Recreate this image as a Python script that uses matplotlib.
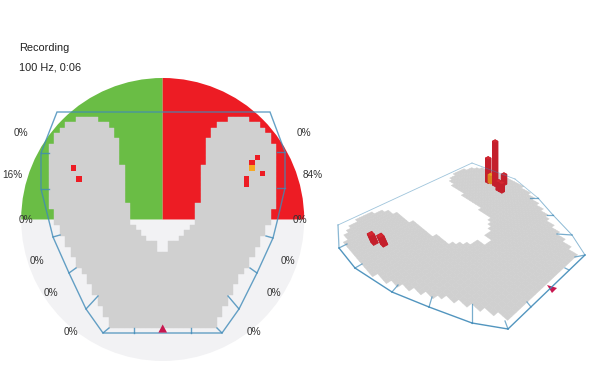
import matplotlib
matplotlib.use("Agg")
import matplotlib.pyplot as plt
import numpy as np
from matplotlib.collections import PolyCollection
from matplotlib.patches import Wedge, Polygon

plt.rcParams['font.family'] = ['Liberation Sans', 'DejaVu Sans']

# sensor map, one entry per row, columns counted from the middle of the foot map
left_start = [-16, -18, -19, -20, -20, -21, -21, -21, -21, -21, -21, -21, -21, -21, -21, -21, -21, -20, -20, -20,
              -19, -19, -18, -18, -17, -17, -16, -16, -15, -14, -14, -13, -13, -12, -12, -11, -11, -10, -10]
left_end = [-12, -10, -9, -9, -8, -8, -8, -8, -8, -7, -7, -7, -7, -7, -7, -7, -6, -6, -6, -6,
            -5, -4, -3, -1, -1, 0, 0, 0, 0, 0, 0, 0, 0, 0, 0, 0, 0, 0, 0]
right_start = [12, 10, 9, 9, 8, 8, 8, 8, 8, 7, 7, 7, 7, 7, 7, 7, 6, 6, 6, 6,
               5, 4, 3, 1, 1, 0, 0, 0, 0, 0, 0, 0, 0, 0, 0, 0, 0, 0, 0]
right_end = [16, 18, 19, 20, 20, 21, 21, 21, 21, 21, 21, 21, 21, 21, 21, 21, 21, 20, 20, 20,
             19, 19, 18, 18, 17, 17, 16, 16, 15, 14, 14, 13, 13, 12, 12, 11, 11, 10, 10]

# loaded cells: column, row, bar height, colour
hot_cols = [-17, -16, 17, 16, 16, 18, 15, 15]
hot_rows = [9, 11, 7, 8, 9, 10, 11, 12]
hot_heights = [9, 9, 44, 24, 8, 10, 9, 9]
hot_colors = ['#ed1c24', '#ed1c24', '#ed1c24', '#ed1c24', '#f7a823', '#ed1c24', '#ed1c24', '#ed1c24']
bar_lean = [0.45, 0.45, 0, 0, 0, 0, 0, 0]
bar_dx = [0, 0, 8, 1, 1, 6, 6, 6]
bar_dy = [0, -1, 8, 2, 1, 4, 4, 4]

title_lines = ["Recording", "100 Hz, 0:06"]
pct_labels = ["0%", "16%", "0%", "0%", "0%", "0%", "0%", "0%", "0%", "0%", "84%", "0%"]
pct_x = [21, 12, 26, 37, 51, 71, 254, 274, 288, 300, 313, 304]
pct_y = [133, 175, 220, 261, 293, 332, 332, 293, 261, 220, 175, 133]

# outline of the plate in the flat view and in the tilted view
hull_x = [57, 41, 41, 53, 69, 86, 103, 222, 239, 257, 273, 277, 285, 285, 270]
hull_y = [112, 153, 189, 237, 273, 309, 333, 333, 309, 273, 238, 222, 188, 152, 112]
tick_x0 = [41, 41, 53, 69, 86, 103, 134, 191, 222, 239, 257, 273, 285, 285]
tick_y0 = [153, 189, 237, 273, 309, 333, 333, 333, 333, 309, 273, 238, 188, 152]
tick_x1 = [49, 49, 60, 76, 98, 109, 134, 191, 217, 228, 250, 266, 277, 277]
tick_y1 = [153, 189, 235, 268, 296, 328, 328, 328, 328, 296, 268, 236, 188, 152]

hull3d_x = [338, 339, 355, 392, 429, 472, 508, 585, 572, 553, 538, 515, 472]
hull3d_y = [225, 248, 268, 292, 307, 323, 329, 255, 235, 215, 198, 179, 163]
hull3d_lw = [0.9, 1, 1, 1, 1, 1, 1, 0.7, 0.7, 0.7, 0.6, 0.6, 0.6]
hull3d_alpha = [0.6, 0.9, 0.9, 0.9, 0.9, 0.9, 0.9, 0.6, 0.6, 0.6, 0.5, 0.5, 0.5]
tick3d_x0 = [339, 355, 392, 429, 472, 508, 531, 569, 585, 572, 553, 538]
tick3d_y0 = [248, 268, 292, 307, 323, 329, 307, 270, 255, 235, 215, 198]
tick3d_x1 = [347, 362, 398, 432, 472, 505, 527, 565, 575, 557, 547, 530]
tick3d_y1 = [244, 264, 285, 297, 304, 321, 302, 268, 257, 234, 215, 198]

tri3d_x = [547, 557, 552]
tri3d_y = [285, 288, 293]

UNIT = 5.41
CX = 162.7
TOP = 116.7
CY = TOP + 19 * UNIT
RADIUS = 141.5


def flat(col, row):
    return CX + np.asarray(col) * UNIT, TOP + np.asarray(row) * UNIT


# plate corners flat -> tilted
src = [(57, 112), (270, 112), (103, 333), (222, 333)]
dst = [(338, 225), (472, 163), (508, 329), (585, 255)]
A = []
b = []
for (x, y), (u, v) in zip(src, dst):
    A.append([x, y, 1, 0, 0, 0, -u * x, -u * y])
    A.append([0, 0, 0, x, y, 1, -v * x, -v * y])
    b += [u, v]
H = np.append(np.linalg.solve(np.array(A, float), np.array(b, float)), 1).reshape(3, 3)


def tilt(x, y):
    w = H[2, 0] * x + H[2, 1] * y + H[2, 2]
    return (H[0, 0] * x + H[0, 1] * y + H[0, 2]) / w, (H[1, 0] * x + H[1, 1] * y + H[1, 2]) / w


def cell_corners(col, row):
    return flat([col, col + 1, col + 1, col], [row, row, row + 1, row + 1])


fig = plt.figure(figsize=(6, 3.89), dpi=100)
ax = fig.add_axes([0, 0, 1, 1])
ax.set_xlim(0, 600)
ax.set_ylim(389, 0)
ax.axis('off')

ax.add_patch(Wedge((CX, CY), RADIUS, 0, 180, fc='#f2f2f4', ec='none'))
ax.add_patch(Wedge((CX, CY), RADIUS, 180, 270, fc='#6abd45', ec='none'))
ax.add_patch(Wedge((CX, CY), RADIUS, 270, 360, fc='#ed1c24', ec='none'))

flat_polys = []
tilt_polys = []
for row in range(len(left_start)):
    for a, e in ((left_start[row], left_end[row]), (right_start[row], right_end[row])):
        for col in range(a, e):
            xs, ys = cell_corners(col, row)
            flat_polys.append(np.column_stack([xs, ys]))
            tilt_polys.append(np.column_stack(tilt(xs, ys)))
ax.add_collection(PolyCollection(flat_polys, facecolors='#d0d0d0', edgecolors='#d0d0d0', linewidths=0.3))
ax.add_collection(PolyCollection(tilt_polys, facecolors='#d0d0d0', edgecolors='#d0d0d0', linewidths=0.3))

for col, row, c in zip(hot_cols, hot_rows, hot_colors):
    xs, ys = cell_corners(col, row)
    ax.fill(xs, ys, color=c, lw=0)

# plate outline
line_c = '#3f8ab8'
ax.add_patch(Polygon(np.column_stack([hull_x, hull_y]), closed=True, fc='none', ec=line_c, lw=1, alpha=0.8))
for x0, y0, x1, y1 in zip(tick_x0, tick_y0, tick_x1, tick_y1):
    ax.plot([x0, x1], [y0, y1], color=line_c, lw=1, alpha=0.8)
for i in range(len(hull3d_x)):
    j = (i + 1) % len(hull3d_x)
    ax.plot([hull3d_x[i], hull3d_x[j]], [hull3d_y[i], hull3d_y[j]], color=line_c, lw=hull3d_lw[i],
            alpha=hull3d_alpha[i])
for x0, y0, x1, y1 in zip(tick3d_x0, tick3d_y0, tick3d_x1, tick3d_y1):
    ax.plot([x0, x1], [y0, y1], color=line_c, lw=0.9, alpha=0.7)

# bars on the tilted view, back ones first
order = sorted(range(len(hot_cols)), key=lambda i: tilt(*flat(hot_cols[i] + 0.5, hot_rows[i] + 0.5))[1] + bar_dy[i])
for i in order:
    xs, ys = cell_corners(hot_cols[i], hot_rows[i])
    bx, by = tilt(xs, ys)
    bx = bx + bar_dx[i]
    by = by + bar_dy[i]
    h = hot_heights[i]
    tx = bx - bar_lean[i] * h
    ty = by - h
    side = '#c41f2b' if hot_colors[i] == '#ed1c24' else '#d9861e'
    top = '#d42630' if hot_colors[i] == '#ed1c24' else '#e89a2a'
    for k in range(4):
        m = (k + 1) % 4
        ax.fill([bx[k], bx[m], tx[m], tx[k]], [by[k], by[m], ty[m], ty[k]], color=side, ec=side, lw=0.6)
    ax.fill(tx, ty, color=top, lw=0)

# triangles marking the heel side
tri_c = np.array([-1, 1, 0]) * 0.8
tri_r = np.array([39.9, 39.9, 38.4])
tx, ty = flat(tri_c, tri_r)
ax.fill(tx, ty, color='#c8174f', lw=0)
ax.fill(tri3d_x, tri3d_y, color='#c8174f', lw=0)

ax.text(19, 48, title_lines[0], fontsize=7.9, color='#222222', va='center', ha='left')
ax.text(19, 67, title_lines[1], fontsize=7.9, color='#222222', va='center', ha='left')
for x, y, s in zip(pct_x, pct_y, pct_labels):
    ax.text(x, y, s, fontsize=7.2, color='#333333', ha='center', va='center')

fig.savefig("out.png", dpi=100)
